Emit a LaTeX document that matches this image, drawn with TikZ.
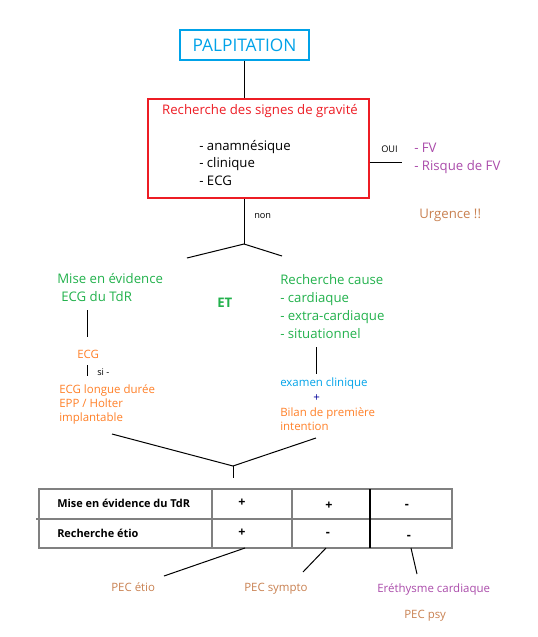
\documentclass[tikz,border=0pt]{standalone}
\usepackage{fontspec}
\setmainfont{Open Sans}
\usetikzlibrary{positioning}
\definecolor{paintblue}{RGB}{0,162,232}
\definecolor{paintred}{RGB}{237,28,36}
\definecolor{paintgreen}{RGB}{34,177,76}
\definecolor{paintorange}{RGB}{255,127,39}
\definecolor{paintpurple}{RGB}{170,75,170}
\definecolor{paintbrown}{RGB}{200,128,80}
\definecolor{tablegray}{RGB}{128,128,128}
\tikzset{
  txt/.style={inner sep=0pt, anchor=west, align=left, font=\fontsize{9.9}{13.5}\selectfont},
  smalltxt/.style={inner sep=0pt, anchor=west, align=left, font=\fontsize{8.6}{10.5}\selectfont},
  tinytxt/.style={inner sep=0pt, anchor=west, font=\fontsize{6.9}{8}\selectfont},
  tabtxt/.style={inner sep=0pt, font=\fontsize{8.2}{10}\selectfont\bfseries},
  signtxt/.style={inner sep=0pt, font=\fontsize{9.4}{10}\selectfont\bfseries},
}
\begin{document}
\begin{tikzpicture}[line cap=butt,line join=miter,x=0.75pt,y=-0.75pt]
\useasboundingbox (0,0) rectangle (538,637);
\tikzstyle{link}=[line width=0.75pt, black]
% top
\node[draw=paintblue, line width=1pt, minimum width=129*0.75pt, minimum height=30*0.75pt, inner sep=0pt,
  text=paintblue, font=\fontsize{13}{15}\selectfont] (palp) at (244.5,45) {PALPITATION};
\node[draw=paintred, line width=1pt, minimum width=221*0.75pt, minimum height=99*0.75pt, inner sep=0pt] (grav) at (258.5,148.5) {};
\node[txt, text=paintred, anchor=center] (gravtitle) at (260,111) {Recherche des signes de gravit\'e};
\node[txt] (gravlist) at (199,163) {- anamn\'esique\\- clinique\\- ECG};
\draw[link] (palp.south) -- (grav.north -| palp.south);
% oui
\coordinate (ouiend) at (402,162);
\draw[link] (grav.east |- ouiend) -- (ouiend);
\node[tinytxt] (oui) at (381,149) {OUI};
\node[txt, text=paintpurple] (fv) at (414,158.5) {- FV\\- Risque de FV};
\node[txt, text=paintbrown] (urg) at (419,215) {Urgence !!};
% non
\coordinate (fork1) at (244,244);
\coordinate (forkl) at (187,258);
\coordinate (forkr) at (282,256);
\draw[link] (grav.south -| fork1) -- (fork1);
\draw[link] (forkl) -- (fork1) -- (forkr);
\node[tinytxt] (non) at (254,216) {non};
% left branch
\node[txt, text=paintgreen] (mise1) at (57,279) {Mise en \'evidence};
\node[txt, text=paintgreen] (mise2) at (61,297) {ECG du TdR};
\node[txt, text=paintgreen, font=\fontsize{9.9}{13.5}\selectfont\bfseries] (et) at (217,303) {ET};
\node[smalltxt, text=paintorange] (ecg) at (77,354) {ECG};
\node[tinytxt] (si) at (97,372) {si -};
\node[smalltxt, text=paintorange] (holter) at (59,404) {ECG longue dur\'ee\\EPP / Holter\\implantable};
\coordinate (l1a) at (87,310);
\coordinate (l1b) at (87,337);
\coordinate (l2a) at (87,365);
\coordinate (l2b) at (87,376);
\draw[link] (l1a) -- (l1b);
\draw[link] (l2a) -- (l2b);
% right branch
\node[txt, text=paintgreen] (cause) at (280,307) {Recherche cause\\- cardiaque\\- extra-cardiaque\\- situationnel};
\node[smalltxt, text=paintblue] (exam) at (280,384) {examen clinique};
\node[smalltxt, text=blue!60!black] (plus) at (313,398) {+};
\node[smalltxt, text=paintorange] (bilan) at (280,419) {Bilan de premi\`ere\\intention};
\coordinate (r1a) at (316,347);
\coordinate (r1b) at (316,374);
\draw[link] (r1a) -- (r1b);
% lower fork
\coordinate (fork2) at (233,466);
\coordinate (fork2l) at (112,434);
\coordinate (fork2r) at (316,438);
\coordinate (tabtop) at (233,478);
\draw[link] (fork2l) -- (fork2) -- (fork2r);
\draw[link] (fork2) -- (tabtop);
% table
\draw[tablegray, line width=0.9pt] (39,489) rectangle (452,548);
\draw[tablegray, line width=0.9pt] (36,519) -- (452,519);
\draw[tablegray, line width=0.9pt] (212,489) -- (212,548);
\draw[tablegray, line width=0.9pt] (292,489) -- (292,548);
\draw[black, line width=1pt] (370,489) -- (370,548);
\node[tabtxt, anchor=west] (row1) at (57,503) {Mise en \'evidence du TdR};
\node[tabtxt, anchor=west] (row2) at (57,533) {Recherche \'etio};
\node[signtxt] (c11) at (242,503) {+};
\node[signtxt] (c12) at (329,506) {+};
\node[signtxt] (c13) at (407,506) {-};
\node[signtxt] (c21) at (242,533) {+};
\node[signtxt] (c22) at (328,534) {-};
\node[signtxt] (c23) at (409,537) {-};
% outcomes
\coordinate (b1) at (245,548);
\coordinate (b2) at (326,548);
\coordinate (b3) at (411,548);
\coordinate (e1) at (164,576);
\coordinate (e2) at (303,572);
\coordinate (e3) at (417,574);
\draw[link] (b1) -- (e1);
\draw[link] (b2) -- (e2);
\draw[link] (b3) -- (e3);
\node[smalltxt, text=paintbrown] (pecetio) at (111,587) {PEC \'etio};
\node[smalltxt, text=paintbrown] (pecsympto) at (244,589) {PEC sympto};
\node[smalltxt, text=paintpurple] (erethysme) at (377,589) {Er\'ethysme cardiaque};
\node[smalltxt, text=paintbrown] (pecpsy) at (404,616) {PEC psy};
\end{tikzpicture}
\end{document}
